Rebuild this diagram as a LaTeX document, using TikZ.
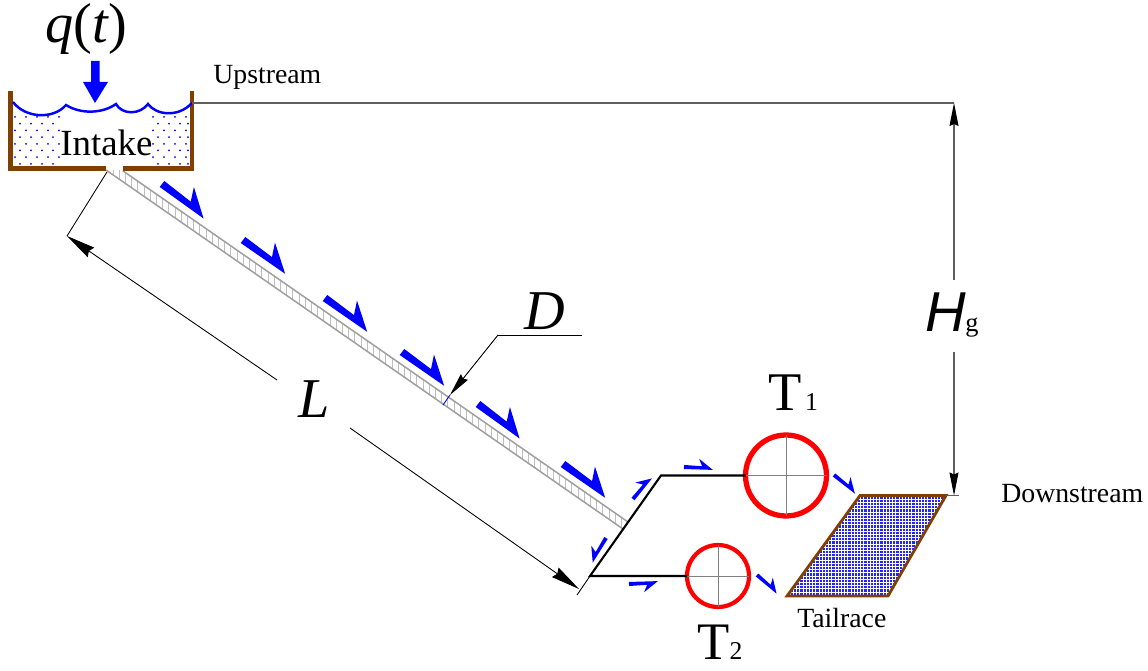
\documentclass[tikz,border=0pt]{standalone}
\usepackage{fontspec}
\setmainfont{Liberation Serif}
\newfontfamily\headfont{Liberation Sans}
\definecolor{wallbrown}{RGB}{128, 64, 0}
\definecolor{linegray}{RGB}{95, 95, 95}
\definecolor{waterblue}{RGB}{35, 35, 250}
\usetikzlibrary{arrows.meta}

\begin{document}
\begin{tikzpicture}[
    x=0.02cm,y=-0.02cm,
    label/.style={anchor=base west,inner sep=0,font=\fontsize{15.8}{16}\selectfont},
    biglabel/.style={anchor=base west,inner sep=0,font=\fontsize{32}{32}\selectfont\itshape},
    wall/.style={wallbrown,line width=2.6pt},
    pipeline/.style={black,line width=1.2pt},
    turbine/.style={circle,draw=red,outer sep=0,inner sep=0},
    crossline/.style={gray,line width=0.45pt},
    dimline/.style={black,line width=0.5pt},
    dimarrow/.style={-{Stealth[length=0.46cm,width=0.18cm,inset=0.04cm,color=black]}},
    bigarrow/.style={-{Stealth[length=0.58cm,width=0.23cm,inset=0.05cm,color=black]}},
    flowarrow/.pic={\fill[blue] (0,-.07) -- (.62,-.07) -- (.5,-.32) -- (1,.03) -- (0,.07) -- cycle;}
]
    \useasboundingbox (0,0) rectangle (1148,671);

    \coordinate (penA) at (122.7,170.7);
    \coordinate (penB) at (628,522);
    \coordinate (penC) at (106,170);
    \coordinate (penD) at (623,529);
    \foreach \x in {113,119.2,...,625} {
        \pgfmathsetmacro{\ytop}{max(170,170.7+0.695*(\x-122.7))}
        \pgfmathsetmacro{\ybot}{max(170,181.7+0.695*(\x-122.7))}
        \draw[gray!50,line width=0.4pt] (\x,\ytop) -- (\x,\ybot);
    }
    \draw[gray!75,line width=0.85pt] (penA) -- (penB);
    \draw[gray!75,line width=0.85pt] (penC) -- (penD);

    \foreach \y in {117,130.4,143.8,157.2}
        \foreach \x in {15,26,37,48,59,153,164,175,186}
            \fill[blue] (\x,\y) circle (1);
    \foreach \y in {123.7,137.1,150.5,163.9}
        \foreach \x in {20,31,42,53,158,169,180,188}
            \fill[blue] (\x,\y) circle (1);

    \coordinate (wallL) at (10.5,91);
    \coordinate (wallR) at (192,91);
    \draw[wall] (wallL) -- (10.5,168.5) -- (105.5,168.5);
    \draw[wall] (wallR) -- (192,168.5) -- (122.5,168.5);
    \draw[blue,line width=1.4pt] (13,102) .. controls (25,118) and (53,120) .. (66,105)
        .. controls (80,114) and (102,114) .. (116,104)
        .. controls (122,115) and (140,115) .. (148,104)
        .. controls (156,115) and (178,118) .. (192,103);

    \fill[blue] (91,61) -- (99.5,61) -- (99.5,82) -- (108,82) -- (95,103) -- (83,82) -- (91,82) -- cycle;

    \node[biglabel] (qt) at (45,43) {q\textup{(}t\textup{)}};
    \node[label] (upstream) at (213,84) {Upstream};
    \node[label,font=\fontsize{21}{21}\selectfont] (intake) at (60,156) {Intake};
    \node[label] (downstream) at (1001,502) {Downstream};
    \node[label] (tailrace) at (797,627) {Tailrace};
    \node[biglabel] (lenL) at (298,418) {L};
    \node[biglabel] (diaD) at (524,330) {D};
    \node[label,font=\fontsize{32}{32}\selectfont\headfont\itshape] (headH) at (925,332) {H};
    \node[label,font=\fontsize{15}{15}\selectfont] (headg) at (965,332) {g};
    \node[label,font=\fontsize{31}{31}\selectfont] (labelT1) at (768,411) {T\hspace{2pt}{\fontsize{14.6}{15}\selectfont 1}};
    \node[label,font=\fontsize{30}{30}\selectfont] (labelT2) at (697,659.5) {T{\fontsize{14.6}{15}\selectfont 2}};

    \foreach \x/\y/\ang/\len/\flip in {
        162/184/-38/54/1, 243/240/-37/54/1, 325/298/-37/54/1, 402/352/-37/54/1,
        478/404/-38/54/1, 563/464/-37/54/1, 633/499/49/28/1, 684/467/-4/29/1,
        834/475/-40/28/1, 757/575/-42/27/1, 606/538/-120/28/-1, 629/584/4/29/-1}
        \pic[rotate=\ang,scale=\len,yscale=\flip] at (\x,\y) {flowarrow};

    \node[turbine,line width=3pt,minimum size=1.62cm] (t1) at (786,475.5) {};
    \node[turbine,line width=2.4pt,minimum size=1.24cm] (t2) at (718,576) {};
    \draw[crossline] (t1.west) -- (t1.east);
    \draw[crossline] (t1.north) -- (t1.south);
    \draw[crossline] (t2.west) -- (t2.east);
    \draw[crossline] (t2.north) -- (t2.south);

    \coordinate (forkU) at (661,475.5);
    \coordinate (forkL) at (590,576);
    \draw[pipeline] (t1.west) -- (forkU) -- (forkL) -- (t2.west);

    \coordinate (tailA) at (860,495.5);
    \coordinate (tailB) at (946,495.5);
    \coordinate (tailC) at (888,596);
    \coordinate (tailD) at (787,596);
    \begin{scope}
        \clip (tailA) -- (tailB) -- (tailC) -- (tailD) -- cycle;
        \fill[waterblue] (tailD |- tailA) rectangle (tailB |- tailC);
        \foreach \x in {787,790.2,...,946}
            \draw[white,line width=0.5pt] (\x,495) -- (\x,597);
        \foreach \y in {496,499.2,...,596}
            \draw[white,line width=0.5pt] (786,\y) -- (947,\y);
    \end{scope}
    \draw[wallbrown,line width=1.6pt] (tailA) -- (tailB) -- (tailC) -- (tailD) -- cycle;

    \coordinate (headTop) at (954,103);
    \coordinate (headBot) at (954,495.5);
    \coordinate (headGapA) at (954,280);
    \coordinate (headGapB) at (954,352);
    \draw[linegray,line width=0.6pt] (wallR |- headTop) -- (headTop);
    \draw[linegray,line width=0.6pt,dimarrow] (headGapA) -- (headTop);
    \draw[linegray,line width=0.6pt,dimarrow] (headGapB) -- (headBot);
    \draw[linegray,line width=0.6pt] (tailB) -- (959,495.5);

    \coordinate (lenStart) at (107,172);
    \coordinate (lenTipA) at (67,236);
    \coordinate (lenGapA) at (277,380);
    \coordinate (lenGapB) at (350,428);
    \coordinate (lenTipB) at (579,589);
    \coordinate (lenEnd) at (577,595);
    \draw[dimline] (lenStart) -- (lenTipA);
    \draw[dimline] (forkL) -- (lenEnd);
    \draw[dimline,bigarrow] (lenGapA) -- (lenTipA);
    \draw[dimline,bigarrow] (lenGapB) -- (lenTipB);

    \coordinate (diaEnd) at (582,335);
    \coordinate (diaBend) at (498,335);
    \coordinate (diaTip) at (450,395);
    \coordinate (diaFoot) at (443,405);
    \draw[dimline] (diaEnd) -- (diaBend);
    \draw[dimline,dimarrow] (diaBend) -- (diaTip);
    \draw[blue,line width=0.5pt] (diaTip) -- (diaFoot);
\end{tikzpicture}
\end{document}
